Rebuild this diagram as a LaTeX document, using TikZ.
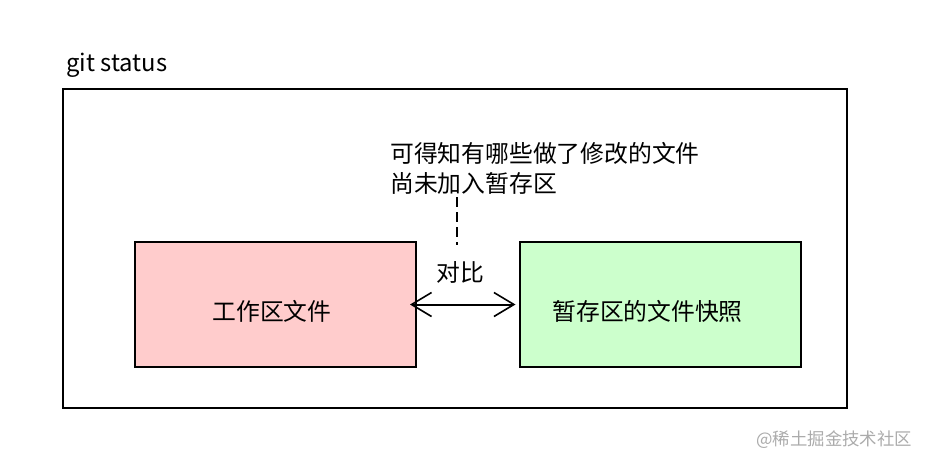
\documentclass[tikz,border=0pt]{standalone}
\usepackage{fontspec}
\setmainfont{Noto Sans CJK SC}
\usetikzlibrary{positioning,arrows.meta}
\definecolor{workpink}{HTML}{FFCCCC}
\definecolor{stagegreen}{HTML}{CCFFCC}
\definecolor{markgray}{HTML}{ABABAB}

\begin{document}
\begin{tikzpicture}[
    x=0.5pt, y=-0.5pt,
    every node/.style={font=\fontsize{11.9}{15}\selectfont, inner sep=0pt},
    area/.style={
        draw=black, fill=#1, line width=1pt,
        minimum width=140.5pt, minimum height=62.5pt
    },
    frame/.style={
        draw=black, line width=1pt,
        minimum width=392pt, minimum height=159.5pt
    },
    note/.style={align=left, anchor=west},
    arr/.style={<->, line width=1pt, shorten <=-3.5pt, shorten >=1.5pt,
        >={Straight Barb[length=10pt, width=12pt, line width=0.8pt]}},
]

% page size
\useasboundingbox (0,0) rectangle (934,466);

% outer frame and its title
\node[frame] (status) at (455,248.5) {};
\node[anchor=west] (title) at (66,65) {git status};

% working tree and stage
\node[area=workpink] (work) at (275.5,304.5) {};
\node[area=stagegreen] (stage) at (660,304.5) {};
\node (worktext) at (272,311) {工作区文件};
\node[anchor=west] (stagetext) at (552,311) {暂存区的文件快照};

% comparison arrow
\draw[arr] (work.east) -- (stage.west);
\node (compare) at (460,272) {对比};

% remark with dashed pointer
\node[note] (remark) at (390,168) {可得知有哪些做了修改的文件\\尚未加入暂存区};
\coordinate (pin) at (457,245);
\draw[dashed, dash pattern=on 5pt off 2.5pt, line width=0.8pt] (remark.south -| pin) ++(0,3) -- (pin);

% watermark
\node[anchor=west, text=markgray, font=\fontsize{8.7}{11}\selectfont] (mark) at (756,440) {@稀土掘金技术社区};

\end{tikzpicture}
\end{document}
